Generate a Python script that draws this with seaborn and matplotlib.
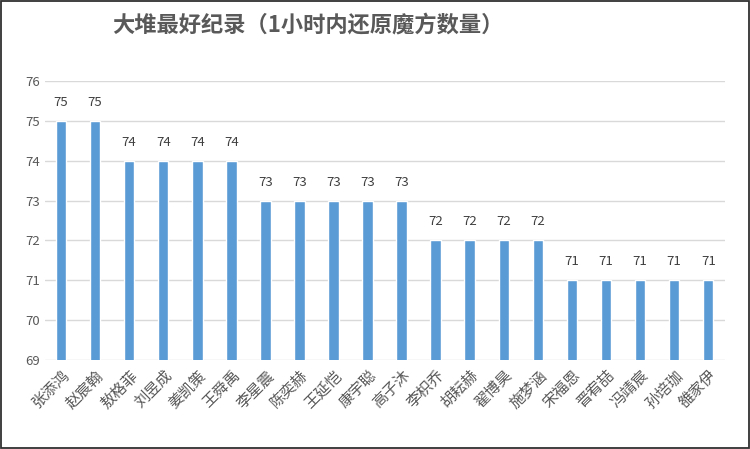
import matplotlib
matplotlib.use('Agg')
import matplotlib.pyplot as plt
import seaborn as sns
import pandas as pd
from matplotlib.patches import Rectangle

# ================= 数据 =================
names = ['张添鸿', '赵宸翰', '敖格菲', '刘昱成', '姜凯策', '王舜禹', '李星震', '陈奕赫', '王延恺', '康宇聪',
         '高子沐', '李枳乔', '胡耘赫', '翟博昊', '施梦涵', '宋福恩', '晋宥喆', '冯靖宸', '孙培珈', '雒家伊']
counts = [75, 75, 74, 74, 74, 74, 73, 73, 73, 73,
          73, 72, 72, 72, 72, 71, 71, 71, 71, 71]
yticks = [69, 70, 71, 72, 73, 74, 75, 76]
title = '大堆最好纪录（1小时内还原魔方数量）'

BAR_COLOR = '#5B9BD5'
TEXT_COLOR = '#595959'

sns.set_style('white')
plt.rcParams['font.family'] = ['Noto Sans CJK SC', 'DejaVu Sans']

df = pd.DataFrame({'name': names, 'count': counts})

fig = plt.figure(figsize=(7.5, 4.49), dpi=100)
fig.patch.set_facecolor('white')
ax = fig.add_axes([0.06, 0.198, 0.907, 0.622])

sns.barplot(ax=ax, data=df, x='name', y='count', color=BAR_COLOR, width=0.31,
            saturation=1, zorder=3)

ax.set_ylim(69, 76)
ax.set_yticks(yticks)
ax.set_xlim(-0.47, 19.5)
ax.grid(axis='y', color='#D9D9D9', lw=1, zorder=0)
ax.set_axisbelow(True)
for s in ax.spines.values():
    s.set_visible(False)
ax.tick_params(axis='both', length=0, colors=TEXT_COLOR, labelsize=9.5)
ax.tick_params(axis='x', pad=5)
ax.set_xlabel('')
ax.set_ylabel('')
plt.setp(ax.get_xticklabels(), rotation=45, ha='right', rotation_mode='anchor', fontsize=11)

for i, v in enumerate(counts):
    ax.text(i, v + 0.3, str(v), ha='center', va='bottom', fontsize=9.5, color='#404040')

fig.text(0.41, 0.944, title, ha='center', va='center', fontsize=16, fontweight='bold', color=TEXT_COLOR)

fig.patches.append(Rectangle((0.001, 0.002), 0.997, 0.996, transform=fig.transFigure,
                             fill=False, edgecolor='#303030', lw=1.3))

plt.savefig('out.png', dpi=100)
